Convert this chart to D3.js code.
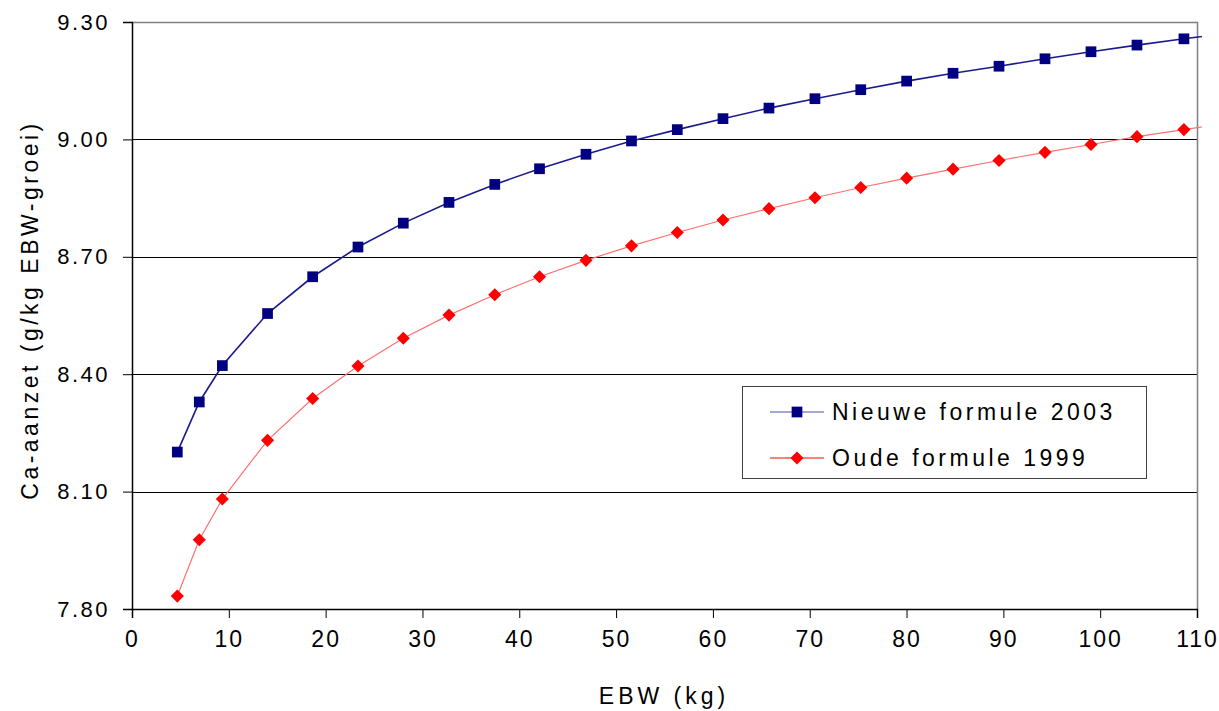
<!DOCTYPE html>
<html>
<head>
<meta charset="utf-8">
<script src="https://cdn.jsdelivr.net/npm/d3@7"></script>
<style>
  body { margin: 0; background: #fff; }
  text { font-family: "Liberation Sans", Arial, sans-serif; fill: #000; }
</style>
</head>
<body>
<div id="chart"></div>
<script>
// EBW (kg) of each point; last one lies past the axis end and is clipped
var ebw = [4.68, 6.95, 9.33, 14.0, 18.66, 23.34, 28.02, 32.74, 37.47, 42.09, 46.89, 51.59,
           56.32, 61.04, 65.79, 70.54, 75.27, 80.01, 84.8, 89.55, 94.3, 99.05, 103.8, 108.65, 113.4];
var nieuw = [8.201, 8.329, 8.422, 8.555, 8.649, 8.725, 8.786, 8.839, 8.885, 8.925, 8.962, 8.996,
             9.025, 9.053, 9.080, 9.104, 9.127, 9.149, 9.169, 9.187, 9.206, 9.224, 9.241, 9.257, 9.272];
var oud = [7.833, 7.977, 8.081, 8.231, 8.338, 8.421, 8.492, 8.551, 8.603, 8.649, 8.691, 8.728,
           8.762, 8.794, 8.823, 8.851, 8.877, 8.901, 8.924, 8.946, 8.967, 8.987, 9.007, 9.025, 9.043];
var xTicks = [0, 10, 20, 30, 40, 50, 60, 70, 80, 90, 100, 110];
var yTicks = [7.8, 8.1, 8.4, 8.7, 9.0, 9.3];
var seriesNames = ["Nieuwe formule 2003", "Oude formule 1999"];

var margin = {top: 22, right: 22, bottom: 102, left: 132}
  , width = 1219 - margin.left - margin.right
  , height = 711 - margin.top - margin.bottom;

var x = d3.scaleLinear().domain([0, 110]).range([0, width]);
var y = d3.scaleLinear().domain([7.8, 9.3]).range([height, 0]);

var svg = d3.select('#chart').append('svg')
  .attr('width', 1219)
  .attr('height', 711);

var main = svg.append('g')
  .attr('transform', 'translate(' + margin.left + ',' + margin.top + ')');

svg.append('defs').append('clipPath').attr('id', 'plotclip')
  .append('rect').attr('x', 0).attr('y', -10).attr('width', width + 5).attr('height', height + 20);

// horizontal gridlines
main.append('g').selectAll('line')
  .data(yTicks.slice(1, -1))
  .enter().append('line')
  .attr('x1', 0).attr('x2', width)
  .attr('y1', function(d) { return Math.round(y(d)) + 0.5; })
  .attr('y2', function(d) { return Math.round(y(d)) + 0.5; })
  .attr('stroke', '#000').attr('stroke-width', 1);

// grey frame top and right
main.append('path')
  .attr('d', 'M0,0.5H' + (width + 0.5) + 'V' + height)
  .attr('fill', 'none').attr('stroke', '#808080').attr('stroke-width', 1.5);

// axes
var xAxis = d3.axisBottom(x).tickValues(xTicks).tickSize(9).tickPadding(13).tickFormat(d3.format('d'));
var gx = main.append('g')
  .attr('transform', 'translate(0,' + height + ')')
  .call(xAxis);
gx.select('.domain').attr('stroke', '#000').attr('stroke-width', 1.5);
gx.selectAll('.tick line').attr('stroke', '#000');
gx.selectAll('text')
  .style('font-size', '23px').style('letter-spacing', '2px')
  .attr('font-family', null).attr('fill', '#000');

var yAxis = d3.axisLeft(y).tickValues(yTicks).tickSize(9).tickPadding(13).tickFormat(d3.format('.2f'));
var gy = main.append('g').call(yAxis);
gy.select('.domain').attr('stroke', '#000').attr('stroke-width', 1.5);
gy.selectAll('.tick line').attr('stroke', '#000');
gy.selectAll('text')
  .style('font-size', '22px').style('letter-spacing', '2.5px')
  .attr('font-family', null).attr('fill', '#000');

// lines + markers
var line = d3.line()
  .x(function(d, i) { return x(ebw[i]); })
  .y(function(d) { return y(d); });

var plot = main.append('g').attr('clip-path', 'url(#plotclip)');

plot.append('path').datum(oud)
  .attr('fill', 'none').attr('stroke', '#ff7070').attr('stroke-width', 1.2)
  .attr('d', line);
plot.append('path').datum(nieuw)
  .attr('fill', 'none').attr('stroke', '#1a1a90').attr('stroke-width', 1.6)
  .attr('d', line);

var sq = d3.symbol().type(d3.symbolSquare).size(115);
var dia = d3.symbol().type(d3.symbolDiamond2).size(110);

plot.selectAll('.sq').data(nieuw).enter().append('path')
  .attr('class', 'sq')
  .attr('d', sq)
  .attr('transform', function(d, i) { return 'translate(' + x(ebw[i]) + ',' + y(d) + ')'; })
  .attr('fill', '#000080');

plot.selectAll('.dia').data(oud).enter().append('path')
  .attr('class', 'dia')
  .attr('d', dia)
  .attr('transform', function(d, i) { return 'translate(' + x(ebw[i]) + ',' + y(d) + ')'; })
  .attr('fill', '#ff0000');

// axis titles
svg.append('text')
  .attr('text-anchor', 'middle')
  .attr('transform', 'translate(664,696)')
  .attr('dy', '0.35em')
  .style('font-size', '23px').style('letter-spacing', '4px')
  .text('EBW (kg)');

svg.append('text')
  .attr('text-anchor', 'middle')
  .attr('transform', 'translate(30,310)rotate(-90)')
  .attr('dy', '0.35em')
  .style('font-size', '23px').style('letter-spacing', '3.5px')
  .text('Ca-aanzet (g/kg EBW-groei)');

// legend
var legend = svg.append('g').attr('transform', 'translate(742,386)');
legend.append('rect')
  .attr('x', 0.5).attr('y', 0.5).attr('width', 404).attr('height', 92)
  .attr('fill', '#fff').attr('stroke', '#404040').attr('stroke-width', 1);

var legendRows = [
  {name: seriesNames[0], color: '#000080', lineColor: '#5050a8', shape: sq, cy: 26},
  {name: seriesNames[1], color: '#ff0000', lineColor: '#ff0000', shape: dia, cy: 72}
];
legendRows.forEach(function(r) {
  legend.append('line')
    .attr('x1', 28).attr('x2', 82).attr('y1', r.cy).attr('y2', r.cy)
    .attr('stroke', r.lineColor).attr('stroke-width', 1.2);
  legend.append('path')
    .attr('d', r.shape)
    .attr('transform', 'translate(55,' + r.cy + ')')
    .attr('fill', r.color);
  legend.append('text')
    .attr('x', 90).attr('y', r.cy).attr('dy', '0.35em')
    .style('font-size', '23px').style('letter-spacing', '3.5px')
    .text(r.name);
});
</script>
</body>
</html>
